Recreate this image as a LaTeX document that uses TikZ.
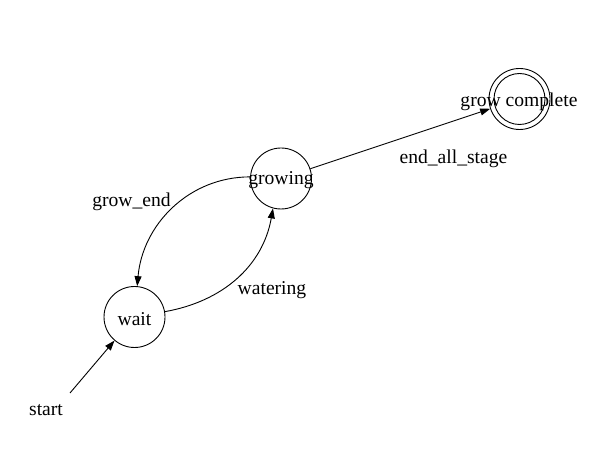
\documentclass[tikz,border=0pt]{standalone}
\usepackage{fontspec}
\setmainfont{Liberation Serif}
\usetikzlibrary{arrows.meta}
\begin{document}
\begin{tikzpicture}[x=1pt,y=-1pt,
  state/.style={circle,draw,line width=0.9pt,minimum size=61pt,inner sep=0pt},
  lbl/.style={font=\fontsize{19.6}{22}\selectfont,inner sep=0pt},
  edge/.style={line width=0.9pt,-{Triangle[length=10pt,width=7pt]}}]
\useasboundingbox (0,0) rectangle (611,462);
\node[state] (wait) at (134.5,317) {};
\node[state] (growing) at (281,178.5) {};
\node[state,minimum size=61pt] (done) at (519.5,99) {};
\node[circle,draw,line width=0.9pt,minimum size=51pt,inner sep=0pt] (doneIn) at (519.5,99) {};
\node[lbl] (waitT) at (134.5,319.5) {wait};
\node[lbl] (growingT) at (281,180.5) {growing};
\node[lbl] (doneT) at (519,101.5) {grow complete};
\node[lbl] (startT) at (46,410.5) {start};
\coordinate (s0) at (70,393);
\node[lbl] (l1) at (131.5,201.5) {grow\_end};
\node[lbl] (l2) at (272,290.5) {watering};
\node[lbl] (l3) at (453.5,158.5) {end\_all\_stage};
\draw[edge] (s0) -- (wait);
\draw[edge] (wait.10) to[out=10,in=-100] (growing.-105);
\draw[edge] (growing.177) to[out=180,in=85] (wait.85);
\draw[edge] (growing) -- (done);
\end{tikzpicture}
\end{document}
